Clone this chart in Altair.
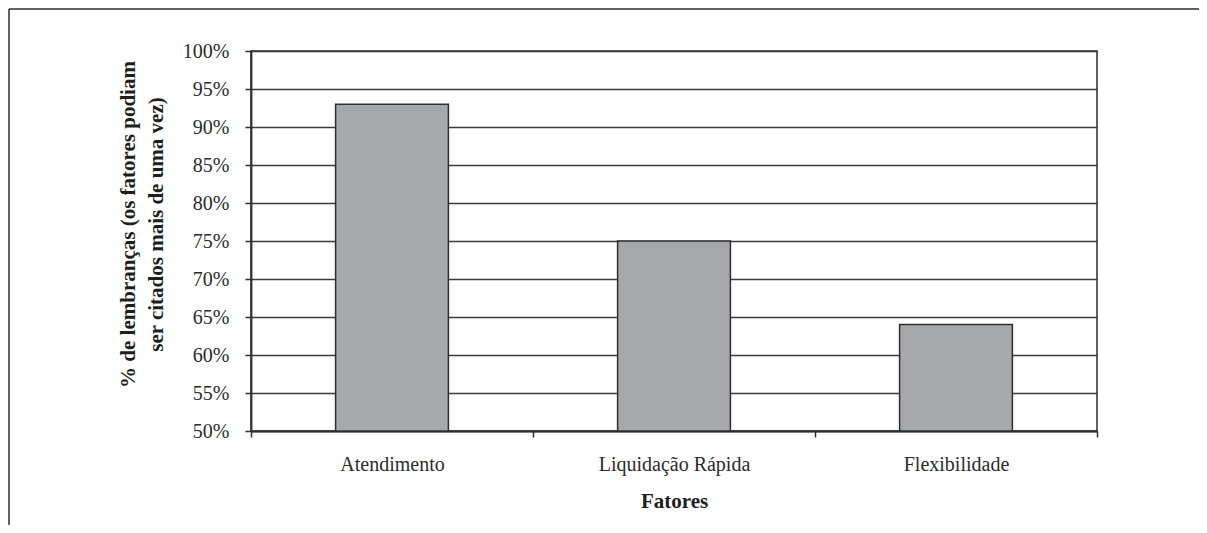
import altair as alt
import pandas as pd

categories = ["Atendimento", "Liquidação Rápida", "Flexibilidade"]
values = [0.93, 0.75, 0.64]
y_ticks = [0.50, 0.55, 0.60, 0.65, 0.70, 0.75, 0.80, 0.85, 0.90, 0.95, 1.00]
y_title = ["% de lembranças (os fatores podiam", "ser citados mais de uma vez)"]
x_title = "Fatores"

df = pd.DataFrame({"fator": categories, "pct": values})

FONT = "Liberation Serif"
DARK = "#2e2e2e"

bars = alt.Chart(df).mark_bar(
    width=alt.RelativeBandSize(0.4),
    color="#a7a8ac",
    stroke=DARK,
    strokeWidth=1.5,
).encode(
    x=alt.X(
        "fator:N",
        sort=categories,
        scale=alt.Scale(paddingInner=0, paddingOuter=0),
        axis=alt.Axis(
            title=x_title,
            labelAngle=0,
            tickBand="extent",
            labelPadding=17,
            tickSize=6,
            titleY=59,
            titleBaseline="top",
            titleFontWeight="bold",
        ),
    ),
    y=alt.Y(
        "pct:Q",
        scale=alt.Scale(domain=[0.5, 1.0], nice=False, zero=False),
        axis=alt.Axis(
            values=y_ticks,
            format=".0%",
            title=y_title,
            grid=True,
            gridColor="#3a3a3a",
            gridWidth=1.5,
            tickSize=6,
            labelPadding=16,
            titleX=-113,
            titleY=173,
            titleAngle=-90,
            titleAlign="center",
            titleBaseline="bottom",
            titleLineHeight=28,
            titleFontWeight="bold",
        ),
    ),
    y2=alt.datum(0.5),
)

frame_src = pd.DataFrame({"k": [0]})
frame_top = alt.Chart(frame_src).mark_rule(color=DARK, strokeWidth=1.5).encode(
    x=alt.value(-242), x2=alt.value(960), y=alt.value(-42)
)
frame_left = alt.Chart(frame_src).mark_rule(color=DARK, strokeWidth=1.5).encode(
    x=alt.value(-242), y=alt.value(-42), y2=alt.value(480)
)

chart = alt.layer(bars, frame_top, frame_left).properties(
    width=846,
    height=380,
    padding={"left": 243, "top": 43, "right": 102, "bottom": 94},
    autosize=alt.AutoSizeParams(type="none"),
    background="white",
).configure_view(
    stroke=DARK, strokeWidth=1.5
).configure_axis(
    labelFont=FONT,
    titleFont=FONT,
    labelFontSize=20,
    titleFontSize=21,
    labelColor="#2b2b2b",
    titleColor="#1e1e1e",
    domainColor=DARK,
    domainWidth=1.8,
    tickColor=DARK,
    tickWidth=1.5,
)

chart.save("out.html", embed_options={"renderer": "svg", "actions": False})
